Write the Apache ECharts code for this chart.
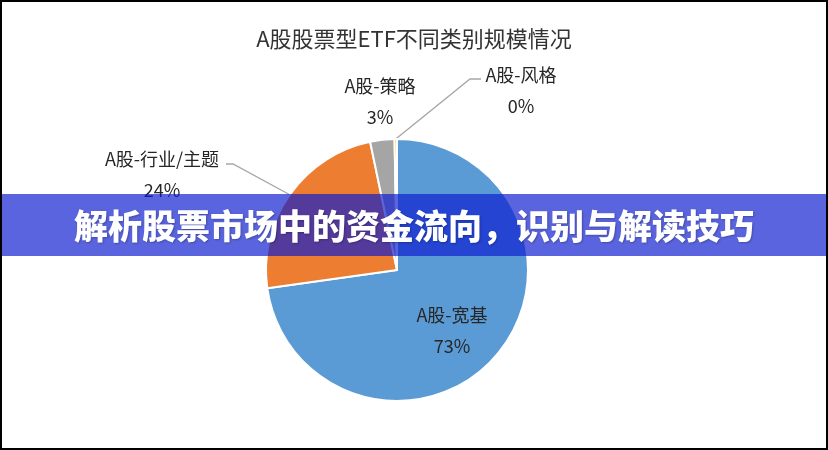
<!DOCTYPE html>
<html>
<head>
<meta charset="utf-8">
<script src="https://cdn.jsdelivr.net/npm/echarts@6/dist/echarts.min.js"></script>
<style>
  html, body { margin: 0; padding: 0; background: #fff; }
  #wrap { position: relative; width: 828px; height: 450px; }
  #main { position: absolute; left: 0; top: 0; width: 828px; height: 450px; }
  #frame { position: absolute; left: 0; top: 0; width: 828px; height: 450px; box-sizing: border-box; border: 2px solid #000; pointer-events: none; }
</style>
</head>
<body>
<div id="wrap"><div id="main"></div><div id="frame"></div></div>
<script>
// ---- data ----
const chartTitle = 'A股股票型ETF不同类别规模情况';
const categories = ['A股-宽基', 'A股-行业/主题', 'A股-策略', 'A股-风格'];
const shares = [73, 24, 3, 0.3];
const bannerText = '解析股票市场中的资金流向，识别与解读技巧';

// ---- styles ----
const sliceColors = ['#5B9BD5', '#ED7D31', '#A5A5A5', '#FFC000'];
const textColor = '#262626';
const FONT = '"Noto Sans CJK SC", "Noto Sans", sans-serif';

// label anchor positions (layout only)
const labelPos = [
  { x: 452, y: 331 },
  { x: 162, y: 175 },
  { x: 380, y: 102 },
  { x: 521, y: 91 }
];
const linePts = [
  null,
  [[233, 164], [226, 164]],
  null,
  [[470, 79], [481, 79]]
];

const chart = echarts.init(document.getElementById('main'), null, { renderer: 'canvas' });

const data = categories.map((name, i) => ({
  name: name,
  value: shares[i],
  itemStyle: { color: sliceColors[i] },
  label: { position: i === 0 ? 'inside' : 'outside' },
  labelLine: { show: !!linePts[i] }
}));

chart.setOption({
  animation: false,
  backgroundColor: '#ffffff',
  title: {
    text: chartTitle,
    left: 'center',
    top: 23,
    textStyle: { fontFamily: FONT, fontSize: 22, fontWeight: 'normal', color: '#333333' }
  },
  series: [{
    type: 'pie',
    center: [397, 270],
    radius: 131,
    startAngle: 90,
    clockwise: true,
    avoidLabelOverlap: false,
    percentPrecision: 0,
    data: data,
    itemStyle: { borderColor: '#ffffff', borderWidth: 2 },
    label: {
      show: true,
      formatter: '{b}\n{d}%',
      fontFamily: FONT,
      fontSize: 18,
      lineHeight: 31,
      color: textColor,
      align: 'center'
    },
    labelLine: {
      show: true,
      lineStyle: { color: '#A6A6A6', width: 1.3 }
    },
    labelLayout: function (params) {
      const i = params.dataIndex;
      const out = {
        x: labelPos[i].x,
        y: labelPos[i].y,
        align: 'center',
        verticalAlign: 'middle'
      };
      if (linePts[i] && params.labelLinePoints) {
        out.labelLinePoints = [params.labelLinePoints[0], linePts[i][0], linePts[i][1]];
      }
      return out;
    }
  }],
  graphic: [
    {
      type: 'rect',
      z: 100,
      shape: { x: 0, y: 194, width: 828, height: 62 },
      style: { fill: 'rgba(10,27,206,0.68)' }
    },
    {
      type: 'text',
      z: 101,
      x: 414,
      y: 226,
      style: {
        text: bannerText,
        fill: '#ffffff',
        font: '900 34px "Noto Sans CJK SC", sans-serif',
        textAlign: 'center',
        textVerticalAlign: 'middle',
        textShadowColor: 'rgba(0,0,0,0.25)',
        textShadowBlur: 2,
        textShadowOffsetX: 1,
        textShadowOffsetY: 1
      }
    }
  ]
});
</script>
</body>
</html>
